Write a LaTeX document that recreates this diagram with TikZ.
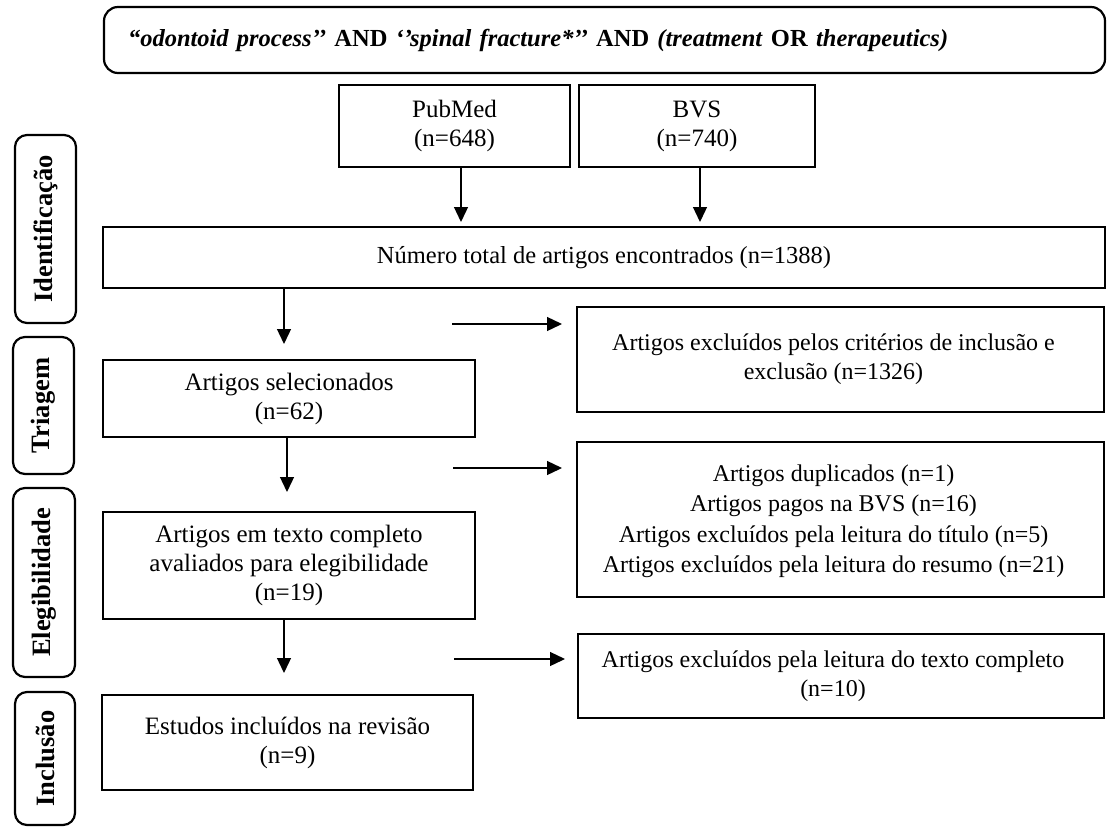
\documentclass[tikz,border=0pt]{standalone}
\usepackage{fontspec}
\setmainfont{Liberation Serif}
\usetikzlibrary{arrows.meta}
\begin{document}
\begin{tikzpicture}[x=1pt,y=-1pt,
  every node/.style={inner sep=0pt,outer sep=0pt,font=\fontsize{25}{29}\selectfont,align=center},
  rtext/.style={font=\fontsize{24}{29}\selectfont},
  box/.style={draw,line width=2.2pt,rectangle},
  rbox/.style={draw,line width=2.2pt,rectangle,rounded corners=14pt},
  lbl/.style={draw,line width=2.2pt,rectangle,rounded corners=12pt,rotate=90,font=\fontsize{26.5}{30}\selectfont\bfseries},
  arr/.style={line width=1.3pt,-{Triangle[length=15pt,width=14pt]}}]
\useasboundingbox (0,0) rectangle (1107,827);
% query
\node[rbox,minimum height=66pt,inner xsep=24pt,text width=953pt,align=left,font=\fontsize{24.5}{29}\selectfont] (query) at (604.5,40)
  {\textbf{\textit{“odontoid process’’}} \textbf{AND} \textbf{\textit{‘’spinal fracture*’’}} \textbf{AND} \textbf{\textit{(treatment}} \textbf{OR} \textbf{\textit{therapeutics)}}};
% databases
\node[box,minimum width=231pt,minimum height=82pt] (pub) at (454.5,126) {PubMed\\(n=648)};
\node[box,minimum width=236pt,minimum height=82pt] (bvs) at (697,126) {BVS\\(n=740)};
% main column
\node[box,minimum width=1002pt,minimum height=61pt,font=\fontsize{24.5}{29}\selectfont] (total) at (604,257.5) {Número total de artigos encontrados (n=1388)};
\node[box,minimum width=372pt,minimum height=77pt] (sel) at (289,398.5) {Artigos selecionados\\(n=62)};
\node[box,minimum width=372pt,minimum height=107pt] (full) at (289,565.5) {Artigos em texto completo\\avaliados para elegibilidade\\(n=19)};
\node[box,minimum width=371pt,minimum height=95pt] (inc) at (287.5,742.5) {Estudos incluídos na revisão\\(n=9)};
% exclusions
\node[box,minimum width=527pt,minimum height=105pt] (ex1) at (840.5,359.5) {};
\node[rtext] (ex1t) at ([xshift=-7pt]ex1.center) {Artigos excluídos pelos critérios de inclusão e\\exclusão (n=1326)};
\node[box,minimum width=527pt,minimum height=155pt] (ex2) at (840.5,519.5) {};
\node[rtext,font=\fontsize{24}{30.5}\selectfont] (ex2t) at ([xshift=-7pt,yshift=-2pt]ex2.center) {Artigos duplicados (n=1)\\Artigos pagos na BVS (n=16)\\Artigos excluídos pela leitura do título (n=5)\\Artigos excluídos pela leitura do resumo (n=21)};
\node[box,minimum width=526pt,minimum height=84pt] (ex3) at (841,676) {};
\node[rtext] (ex3t) at ([xshift=-8pt]ex3.center) {Artigos excluídos pela leitura do texto completo\\(n=10)};
% stage labels
\node[lbl,minimum width=188pt,minimum height=61pt] (lid) at (45.5,229) {Identificação};
\node[lbl,minimum width=137pt,minimum height=61pt] (ltr) at (43.5,405.5) {Triagem};
\node[lbl,minimum width=189pt,minimum height=62pt] (lel) at (44,582.5) {Elegibilidade};
\node[lbl,minimum width=133pt,minimum height=60pt] (lin) at (45,758.5) {Inclusão};
% vertical arrows
\draw[arr,shorten >=5pt] ([xshift=6.5pt]pub.south) -- ([xshift=6.5pt]pub.south |- total.north);
\draw[arr,shorten >=5pt] ([xshift=3pt]bvs.south) -- ([xshift=3pt]bvs.south |- total.north);
\draw[arr,shorten >=16pt] ([xshift=-5pt]sel.north |- total.south) -- ([xshift=-5pt]sel.north);
\draw[arr,shorten >=20pt] ([xshift=-2pt]sel.south) -- ([xshift=-2pt]sel.south |- full.north);
\draw[arr,shorten >=22pt] ([xshift=-5pt]full.south) -- ([xshift=-5pt]full.south |- inc.north);
% horizontal arrows
\coordinate (h1) at (452,324);
\coordinate (h2) at (453,468);
\coordinate (h3) at (454,659);
\draw[arr,shorten >=15pt] (h1) -- (h1 -| ex1.west);
\draw[arr,shorten >=15pt] (h2) -- (h2 -| ex2.west);
\draw[arr,shorten >=13pt] (h3) -- (h3 -| ex3.west);
\end{tikzpicture}
\end{document}
